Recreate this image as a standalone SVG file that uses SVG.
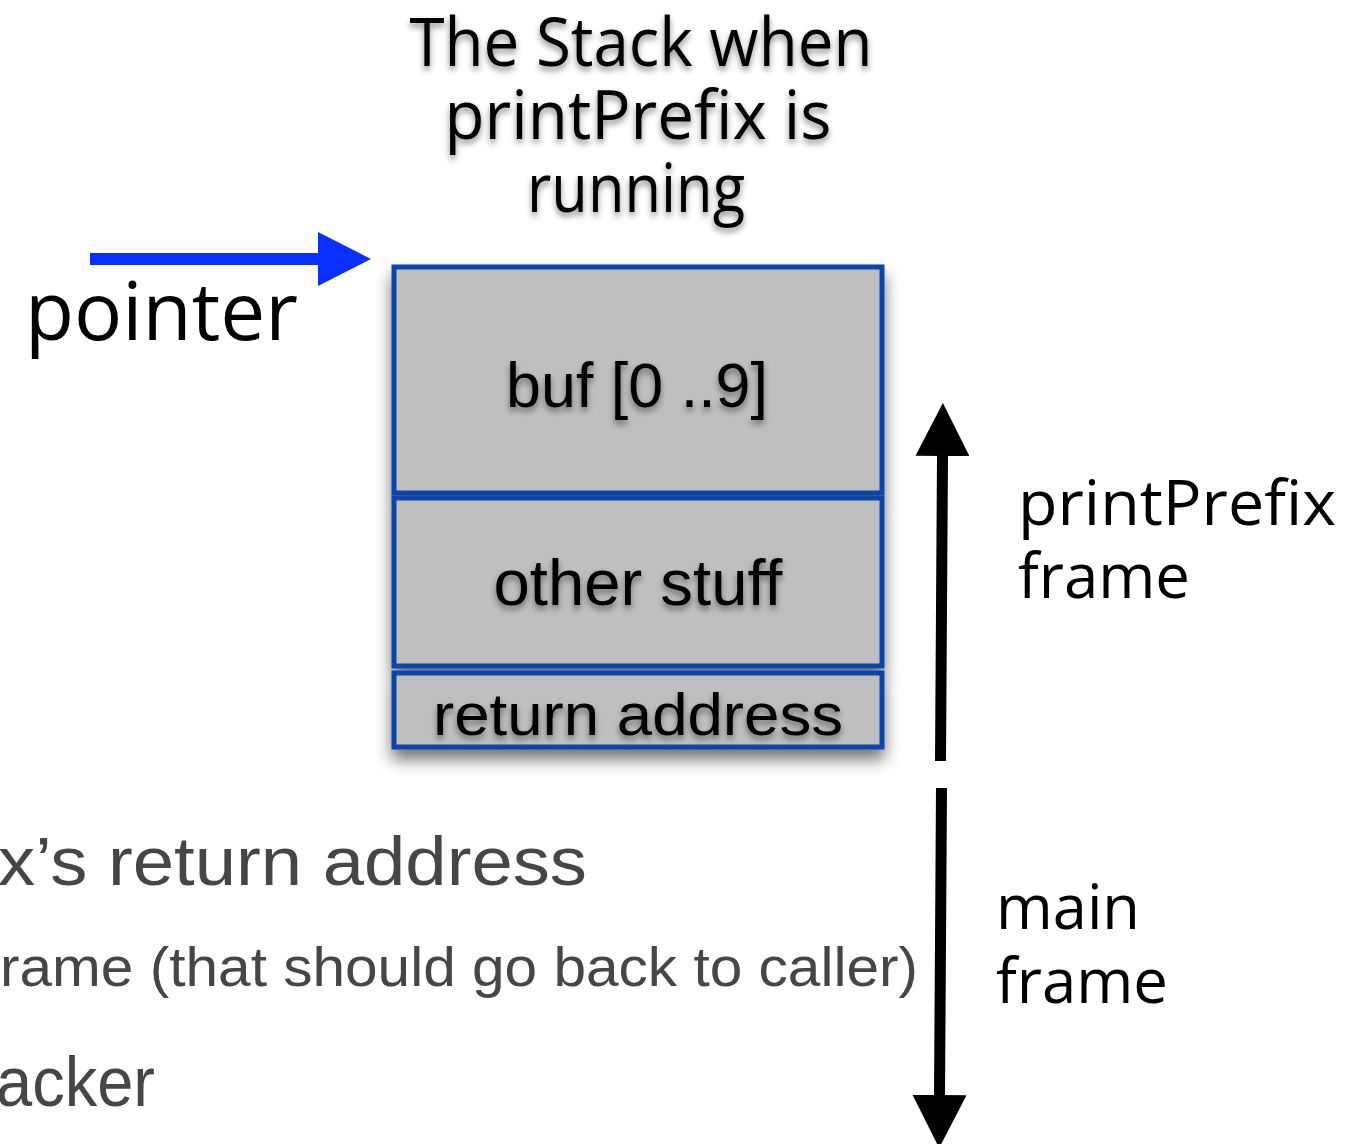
<svg xmlns="http://www.w3.org/2000/svg" width="1364" height="1144" viewBox="0 0 1364 1144">
  <defs>
    <filter id="boxShadow" x="-10%" y="-10%" width="120%" height="130%">
      <feDropShadow dx="0" dy="10" stdDeviation="8" flood-color="#000" flood-opacity="0.55"/>
    </filter>
    <filter id="textShadow" x="-10%" y="-20%" width="120%" height="160%">
      <feDropShadow dx="0" dy="4" stdDeviation="3" flood-color="#000" flood-opacity="0.45"/>
    </filter>
    <marker id="headBlue" markerUnits="userSpaceOnUse" viewBox="0 0 53 54" refX="0" refY="27" markerWidth="53" markerHeight="54" orient="auto">
      <path d="M0,0 L53,27 L0,54 Z" fill="#0A30FF"/>
    </marker>
    <marker id="headBlack" markerUnits="userSpaceOnUse" viewBox="0 0 53 54" refX="0" refY="27" markerWidth="53" markerHeight="54" orient="auto">
      <path d="M0,0 L53,27 L0,54 Z" fill="#000"/>
    </marker>
  </defs>
  <style>
    .cell { fill: #BFBFBF; stroke: #0B44A6; stroke-width: 5; }
    .celltxt { font-family: "Liberation Sans", Arial, sans-serif; fill: #000; text-anchor: middle; filter: url(#textShadow); }
    .title { font-family: "Open Sans", "DejaVu Sans", sans-serif; font-size: 67px; fill: #000; text-anchor: middle; filter: url(#textShadow); }
    .lbl { font-family: "Open Sans", "DejaVu Sans", sans-serif; fill: #000; }
    .bullet { font-family: "Liberation Sans", Arial, sans-serif; fill: #464646; }
    .blk { stroke: #000; stroke-width: 11; fill: none; marker-end: url(#headBlack); }
  </style>
  <rect width="1364" height="1144" fill="#FFFFFF"/>

  <g id="title">
    <text class="title" x="641" y="66" textLength="463" lengthAdjust="spacingAndGlyphs">The Stack when</text>
    <text class="title" x="638" y="139" textLength="387" lengthAdjust="spacingAndGlyphs">printPrefix is</text>
    <text class="title" x="636" y="212" textLength="218" lengthAdjust="spacingAndGlyphs">running</text>
  </g>

  <g id="pointer-label">
    <text class="lbl" x="25" y="340" font-size="80" textLength="273" lengthAdjust="spacingAndGlyphs">pointer</text>
  </g>

  <g id="stack" filter="url(#boxShadow)">
    <g id="buf">
      <rect class="cell" x="394" y="267" width="488" height="226"/>
    </g>
    <g id="other-stuff">
      <rect class="cell" x="394" y="498" width="488" height="168"/>
    </g>
    <g id="return-address">
      <rect class="cell" x="394" y="673" width="488" height="74"/>
    </g>
  </g>
  <g id="stack-labels">
    <text class="celltxt" x="637" y="407" font-size="63" textLength="262" lengthAdjust="spacingAndGlyphs">buf [0 ..9]</text>
    <text class="celltxt" x="638" y="605" font-size="64" textLength="289" lengthAdjust="spacingAndGlyphs">other stuff</text>
    <text class="celltxt" x="638" y="735" font-size="60" textLength="410" lengthAdjust="spacingAndGlyphs">return address</text>
  </g>

  <g id="printprefix-frame-label">
    <text class="lbl" x="1018" y="525" font-size="62" textLength="318" lengthAdjust="spacingAndGlyphs">printPrefix</text>
    <text class="lbl" x="1018" y="598" font-size="62" textLength="172" lengthAdjust="spacingAndGlyphs">frame</text>
  </g>

  <g id="main-frame-label">
    <text class="lbl" x="996" y="929" font-size="62" textLength="144" lengthAdjust="spacingAndGlyphs">main</text>
    <text class="lbl" x="996" y="1003" font-size="62" textLength="172" lengthAdjust="spacingAndGlyphs">frame</text>
  </g>

  <g id="bullets">
    <text class="bullet" x="-2" y="885" font-size="68" textLength="589" lengthAdjust="spacingAndGlyphs">x’s return address</text>
    <text class="bullet" x="0" y="986" font-size="56" textLength="918" lengthAdjust="spacingAndGlyphs">rame (that should go back to caller)</text>
    <text class="bullet" x="-4" y="1106" font-size="70" textLength="159" lengthAdjust="spacingAndGlyphs">acker</text>
  </g>

  <g id="connectors">
    <line x1="90" y1="259" x2="318" y2="259" stroke="#0A30FF" stroke-width="12" marker-end="url(#headBlue)"/>
    <line class="blk" x1="940.5" y1="761" x2="942.5" y2="456"/>
    <line class="blk" x1="941.5" y1="788" x2="939.5" y2="1095"/>
  </g>
</svg>
